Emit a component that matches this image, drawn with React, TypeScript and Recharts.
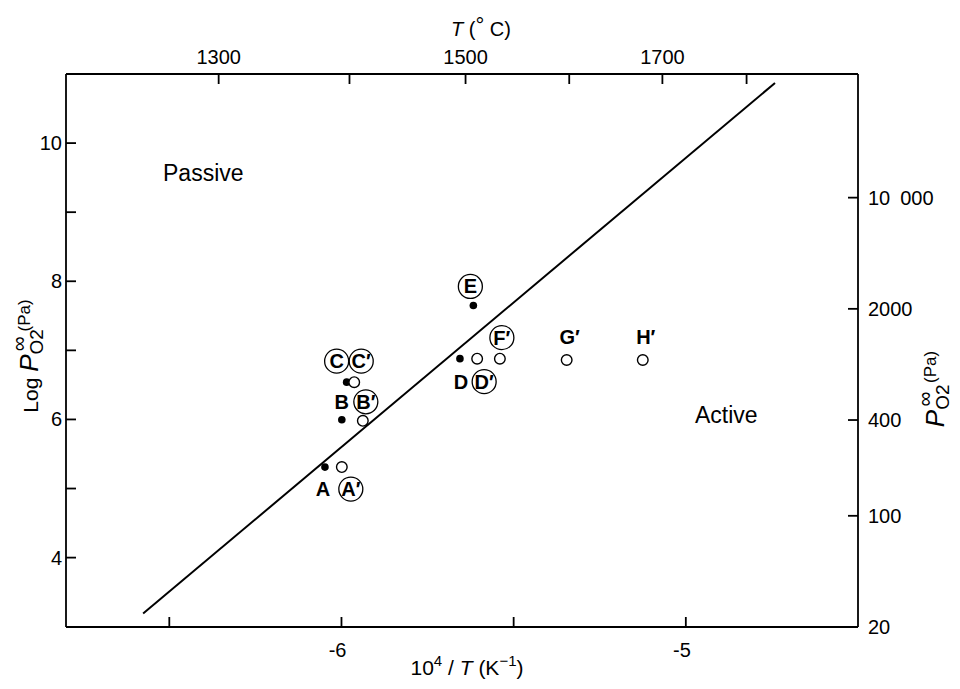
import React from "react";
import { ComposedChart, Scatter, XAxis, YAxis } from "recharts";

// filled points (passive side)
const solidNames = ["A", "B", "C", "D", "E"];
const solidX = [-6.048, -5.999, -5.985, -5.656, -5.617];
const solidY = [5.31, 5.995, 6.54, 6.88, 7.65];

// open points (active side)
const openNames = ["A′", "B′", "C′", "D′", "F′", "G′", "H′"];
const openX = [-5.999, -5.938, -5.963, -5.606, -5.54, -5.346, -5.125];
const openY = [5.31, 5.98, 6.54, 6.88, 6.88, 6.86, 6.86];

// boundary line
const fitX = [-6.576, -4.741];
const fitY = [3.19, 10.87];

// axes
const bottomTicks = [-6.5, -6, -5.5, -5];
const bottomLabels = ["", "-6", "", "-5"];
const leftTicks = [4, 5, 6, 7, 8, 9, 10];
const leftLabels = ["4", "", "6", "", "8", "", "10"];
const topTempsC = [1300, 1400, 1500, 1600, 1700, 1800];
const topLabels = ["1300", "", "1500", "", "1700", ""];
const rightPressures = [20, 100, 400, 2000, 10000];
const rightLabels = ["20", "100", "400", "2000", "10\u2002000"];

const solidData = solidNames.map((name, i) => ({ name, x: solidX[i], y: solidY[i] }));
const openData = openNames.map((name, i) => ({ name, x: openX[i], y: openY[i] }));
const fitData = fitX.map((x, i) => ({ x, y: fitY[i] }));
const topTicks = topTempsC.map((t) => -1e4 / (t + 273.15));
const rightTicks = rightPressures.map((p) => Math.log(p));

const xDomain = [-6.8, -4.5];
const yDomain = [Math.log(20), 11];

const FONT = "'Liberation Sans', Arial, Helvetica, sans-serif";
const AXIS_W = 1.8;
const TICK_LEN = 10; // ticks point into the plot
const axisStroke = { stroke: "#000", strokeWidth: AXIS_W };

// where each point's letter sits, relative to the point
const labelPlace: Record<string, { dx: number; dy: number; ring: boolean }> = {
  A: { dx: -2, dy: 22, ring: false },
  "A′": { dx: 9, dy: 22, ring: true },
  B: { dx: 0, dy: -18, ring: false },
  "B′": { dx: 3, dy: -19, ring: true },
  C: { dx: -10, dy: -21, ring: true },
  "C′": { dx: 7, dy: -21, ring: true },
  D: { dx: 1, dy: 23, ring: false },
  "D′": { dx: 7, dy: 23, ring: true },
  E: { dx: -3, dy: -19, ring: true },
  "F′": { dx: 2, dy: -21, ring: true },
  "G′": { dx: 3, dy: -23, ring: false },
  "H′": { dx: 3, dy: -23, ring: false },
};

const labelFor = (ticks: number[], labels: string[], v: number) => {
  const i = ticks.findIndex((t) => Math.abs(t - v) < 1e-6);
  return i >= 0 ? labels[i] : "";
};

const PointLabel = ({ cx, cy, name }: any) => {
  const p = labelPlace[name];
  if (!p) return null;
  const lx = cx + p.dx;
  const ly = cy + p.dy;
  return (
    <g>
      {p.ring && <circle cx={lx} cy={ly} r={12} fill="none" stroke="#000" strokeWidth={1.3} />}
      <text x={lx} y={ly + 7} textAnchor="middle" fontFamily={FONT} fontWeight="bold" fontSize={20} fill="#000">
        {name}
      </text>
    </g>
  );
};

const SolidDot = (props: any) => (
  <g>
    <circle cx={props.cx} cy={props.cy} r={3.8} fill="#000" />
    <PointLabel cx={props.cx} cy={props.cy} name={props.payload.name} />
  </g>
);

const OpenDot = (props: any) => (
  <g>
    <circle cx={props.cx} cy={props.cy} r={5.3} fill="#fff" stroke="#000" strokeWidth={1.4} />
    <PointLabel cx={props.cx} cy={props.cy} name={props.payload.name} />
  </g>
);

const tickText = { fontFamily: FONT, fontSize: 20, fill: "#000" };

// with tickSize = -TICK_LEN the tick text anchor sits at the inner end of the tick
const BottomTick = ({ x, y, payload }: any) => {
  const label = labelFor(bottomTicks, bottomLabels, payload.value);
  if (!label) return <g />;
  return (
    <text x={x + 5} y={y + TICK_LEN + 30} textAnchor="end" {...tickText}>
      {label}
    </text>
  );
};

const TopTick = ({ x, y, payload }: any) => {
  const label = labelFor(topTicks, topLabels, payload.value);
  if (!label) return <g />;
  return (
    <text x={x} y={y - TICK_LEN - 10} textAnchor="middle" {...tickText}>
      {label}
    </text>
  );
};

const LeftTick = ({ x, y, payload }: any) => {
  const label = labelFor(leftTicks, leftLabels, payload.value);
  if (!label) return <g />;
  return (
    <text x={x - TICK_LEN - 4} y={y + 7} textAnchor="end" {...tickText}>
      {label}
    </text>
  );
};

const RightTick = ({ x, y, payload }: any) => {
  const label = labelFor(rightTicks, rightLabels, payload.value);
  if (!label) return <g />;
  return (
    <text x={x + TICK_LEN + 10} y={y + 7} textAnchor="start" {...tickText}>
      {label}
    </text>
  );
};

const Titles = () => (
  <svg
    width={960}
    height={689}
    style={{ position: "absolute", left: 0, top: 0, pointerEvents: "none" }}
    fontFamily={FONT}
    fill="#000"
  >
    <text x={481} y={36} textAnchor="middle" fontSize={20}>
      <tspan fontStyle="italic">T</tspan>
      <tspan> (</tspan>
      <tspan fontSize={22} dy={-3}>°</tspan>
      <tspan dy={3}> C)</tspan>
    </text>
    <text x={467} y={675} textAnchor="middle" fontSize={21}>
      <tspan>10</tspan>
      <tspan fontSize={15} dy={-9}>4</tspan>
      <tspan dy={9}> / </tspan>
      <tspan fontStyle="italic">T</tspan>
      <tspan> (K</tspan>
      <tspan fontSize={15} dy={-9}>−1</tspan>
      <tspan dy={9}>)</tspan>
    </text>
    <text x={38} y={356} textAnchor="middle" fontSize={21} transform="rotate(-90 38 356)">
      <tspan>Log  </tspan>
      <tspan fontStyle="italic" fontSize={26}>P</tspan>
      <tspan fontSize={19} dy={5}>O2</tspan>
      <tspan fontSize={21} dx={-22} dy={-17}>∞</tspan>
      <tspan fontSize={17} dy={4}> (Pa)</tspan>
    </text>
    <text x={944} y={389} textAnchor="middle" fontSize={21} transform="rotate(-90 944 389)">
      <tspan fontStyle="italic" fontSize={26}>P</tspan>
      <tspan fontSize={19} dy={5}>O2</tspan>
      <tspan fontSize={21} dx={-22} dy={-17}>∞</tspan>
      <tspan fontSize={17} dy={4}>{"\u2002(Pa)"}</tspan>
    </text>
    <text x={163} y={181} fontSize={23}>Passive</text>
    <text x={695} y={423} fontSize={23}>Active</text>
  </svg>
);

export default function App() {
  return (
    <div style={{ position: "absolute", left: 0, top: 0, width: 960, height: 689, background: "#fff" }}>
      <ComposedChart width={960} height={689} margin={{ top: 34, right: 22, bottom: 22, left: 16 }}>
        <XAxis
          xAxisId="bottom"
          type="number"
          dataKey="x"
          orientation="bottom"
          domain={xDomain}
          ticks={bottomTicks}
          interval={0}
          height={40}
          tickSize={-TICK_LEN}
          tickMargin={0}
          tickLine={axisStroke}
          axisLine={axisStroke}
          tick={<BottomTick />}
        />
        <XAxis
          xAxisId="top"
          type="number"
          dataKey="x"
          orientation="top"
          domain={xDomain}
          ticks={topTicks}
          interval={0}
          height={40}
          tickSize={-TICK_LEN}
          tickMargin={0}
          tickLine={axisStroke}
          axisLine={axisStroke}
          tick={<TopTick />}
        />
        <YAxis
          yAxisId="left"
          type="number"
          dataKey="y"
          orientation="left"
          domain={yDomain}
          ticks={leftTicks}
          interval={0}
          width={50}
          tickSize={-TICK_LEN}
          tickMargin={0}
          tickLine={axisStroke}
          axisLine={axisStroke}
          tick={<LeftTick />}
        />
        <YAxis
          yAxisId="right"
          type="number"
          dataKey="y"
          orientation="right"
          domain={yDomain}
          ticks={rightTicks}
          interval={0}
          width={80}
          tickSize={-TICK_LEN}
          tickMargin={0}
          tickLine={axisStroke}
          axisLine={axisStroke}
          tick={<RightTick />}
        />
        {/* invisible series so the top and right axes are drawn */}
        <Scatter
          xAxisId="top"
          yAxisId="right"
          data={fitData}
          shape={() => <g />}
          isAnimationActive={false}
        />
        <Scatter
          xAxisId="bottom"
          yAxisId="left"
          data={fitData}
          line={{ stroke: "#000", strokeWidth: 2 }}
          shape={() => <g />}
          isAnimationActive={false}
        />
        <Scatter xAxisId="bottom" yAxisId="left" data={solidData} shape={SolidDot} isAnimationActive={false} />
        <Scatter xAxisId="bottom" yAxisId="left" data={openData} shape={OpenDot} isAnimationActive={false} />
      </ComposedChart>
      <Titles />
    </div>
  );
}
